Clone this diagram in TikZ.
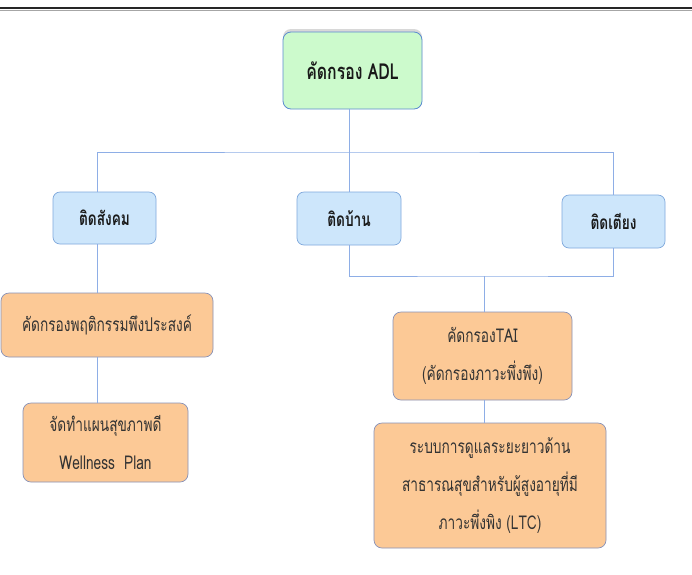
\documentclass[tikz,border=0pt]{standalone}
\usepackage{fontspec}
\setmainfont[Script=Thai]{Loma}
\newfontfamily\thai[Script=Thai,FakeStretch=0.72]{Loma}
\usetikzlibrary{shadows}
\definecolor{rootfill}{HTML}{CCFACC}
\definecolor{rootdraw}{HTML}{5B8BD0}
\definecolor{bluefill}{HTML}{CDE6FB}
\definecolor{bluedraw}{HTML}{7FA8DC}
\definecolor{orfill}{HTML}{FCC996}
\definecolor{ordraw}{HTML}{8791B8}
\definecolor{conncol}{HTML}{8EAEE6}
\tikzset{
  rootbox/.style={draw=rootdraw, fill=rootfill, rounded corners=8pt, line width=0.8pt,
    inner sep=0pt, align=center, text=black!90,
    font={\thai\bfseries\fontsize{22}{24}\selectfont},
    drop shadow={shadow xshift=0pt, shadow yshift=3pt, opacity=0.25, fill=black!60}},
  bluebox/.style={draw=bluedraw, fill=bluefill, rounded corners=7pt, line width=0.7pt,
    inner sep=0pt, align=center, text=black!90,
    font={\thai\bfseries\fontsize{19}{22}\selectfont}},
  orbox/.style={draw=ordraw, fill=orfill, rounded corners=8pt, line width=0.7pt,
    inner sep=0pt, align=center, text=black!80,
    font={\thai\fontsize{19}{38}\selectfont}},
  conn/.style={draw=conncol, line width=0.7pt}
}
\begin{document}
\begin{tikzpicture}[x=1pt,y=-1pt]
\useasboundingbox (0,0) rectangle (692,574);
\fill[white] (0,0) rectangle (692,574);
\draw[black!85, line width=1.6pt] (0,8) -- (692,8);
\draw[black!35, line width=0.6pt] (0,10.3) -- (692,10.3);

\node[rootbox, minimum width=139pt, minimum height=77pt] (root) at (352.5,70.5) {คัดกรอง ADL};
\node[bluebox, minimum width=103pt, minimum height=52pt] (social) at (104.5,218) {ติดสังคม};
\node[bluebox, minimum width=104pt, minimum height=53pt] (home) at (349,218.5) {ติดบ้าน};
\node[bluebox, minimum width=103pt, minimum height=53pt] (bed) at (613.5,221.5) {ติดเตียง};
\node[orbox, minimum width=212pt, minimum height=64pt] (beh) at (107,325) {คัดกรองพฤติกรรมพึงประสงค์};
\node[orbox, minimum width=165pt, minimum height=79pt] (well) at (105.5,442.5) {จัดทำแผนสุขภาพดี\\Wellness~~Plan};
\node[orbox, minimum width=179pt, minimum height=88pt] (tai) at (482.5,356) {คัดกรองTAI\\(คัดกรองภาวะพึ่งพึง)};
\node[orbox, minimum width=232pt, minimum height=125pt] (ltc) at (490,485.5) {ระบบการดูแลระยะยาวด้าน\\สาธารณสุขสำหรับผู้สูงอายุที่มี\\ภาวะพึ่งพิง (LTC)};

\coordinate (jt) at (349,152);
\coordinate (jl) at (97,152);
\coordinate (jr) at (613,152);
\coordinate (bl) at (349,276);
\coordinate (jb) at (484,276);
\coordinate (br) at (613,276);

\draw[conn] (root.south -| jt) -- (jt);
\draw[conn] (social.north -| jl) -- (jl) -- (jt) -- (jr) -- (bed.north -| jr);
\draw[conn] (jt) -- (home.north -| jt);
\draw[conn] (home.south -| bl) -- (bl) -- (jb) -- (br) -- (bed.south -| br);
\draw[conn] (jb) -- (tai.north -| jb);
\draw[conn] (tai.south -| jb) -- (ltc.north -| jb);
\draw[conn] (social.south -| jl) -- (beh.north -| jl);
\draw[conn] (beh.south -| jl) -- (well.north -| jl);
\end{tikzpicture}
\end{document}
